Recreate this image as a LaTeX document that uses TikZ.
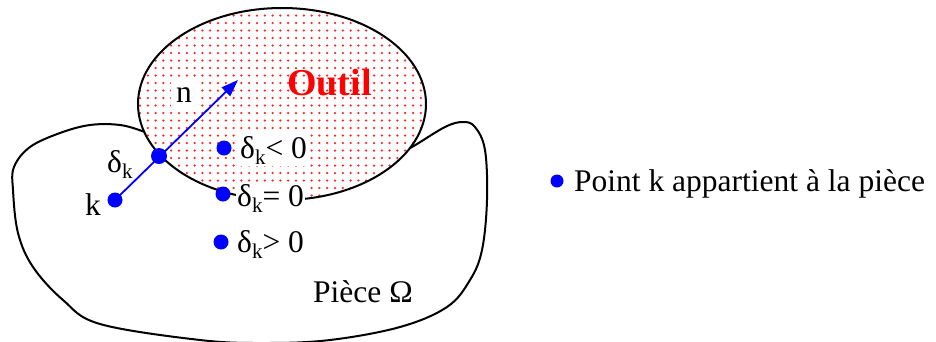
\documentclass[tikz,border=0pt]{standalone}
\usepackage{fontspec}
\setmainfont{Liberation Serif}
\usetikzlibrary{arrows.meta}
\newcommand\dlk{δ\raisebox{-6pt}{\fontsize{21}{21}\selectfont k}}
\tikzset{
  outline/.style={line width=2pt, black},
  bdot/.style={circle, fill=blue, inner sep=0pt, minimum size=#1},
  lbl/.style={anchor=base west, inner sep=1pt, font=\fontsize{31.5}{36}\selectfont},
  wlbl/.style={lbl, fill=white},
  arr/.style={blue, line width=1.8pt, -{Triangle[length=17pt,width=12pt]}}
}
\begin{document}
\begin{tikzpicture}[x=1pt,y=-1pt]
\useasboundingbox (0,0) rectangle (936,341);
% piece
\draw[outline] plot[smooth cycle, tension=0.6] coordinates {
 (145,132) (120,125) (90,125) (60,133) (30,147) (14,167) (13,190) (18,233)
 (33,267) (63,300) (100,324) (200,340) (265,343) (330,340) (400,327) (447,307) (470,280)
 (482,250) (487,200) (485,150) (475,127) (463,122) (445,127) (412,147)
 (395,155) (330,185) (230,180) (165,140)};
% tool
\fill[white] (282,104) ellipse [x radius=144, y radius=96];
\begin{scope}
\clip (282,104) ellipse [x radius=144, y radius=96];
\foreach \x in {140,147.8,...,430}
  \foreach \y in {8,15.5,...,202}
    \fill[red!85] (\x,\y) circle (1.25);
\end{scope}
\draw[outline] (282,104) ellipse [x radius=144, y radius=96];
% labels
\node[wlbl, inner sep=5pt] (n) at (171,102) {n};
\node[lbl, font=\fontsize{38}{42}\selectfont\bfseries, text=red] (outil) at (286,95) {Outil};
\node[lbl] (dk) at (106,172) {\dlk};
\node[lbl] (klbl) at (84,215) {k};
\node[wlbl, inner sep=2pt] (lt) at (238,158) {\dlk< 0};
\node[wlbl] (eq) at (236,206) {\dlk= 0};
\node[lbl] (gt) at (236,252) {\dlk> 0};
\node[lbl] (piece) at (312,302) {Pièce Ω};
% arrow and points
\coordinate (tip) at (238,80);
\node[bdot=15pt] (k) at (115,200) {};
\draw[arr] (k.center) -- (tip);
\node[bdot=16pt] (c) at (159,156) {};
\node[bdot=15pt] (p1) at (224,148) {};
\node[bdot=15pt] (p2) at (223,194) {};
\node[bdot=15pt] (p3) at (221,242) {};
% legend
\node[bdot=13pt] (leg) at (557,181) {};
\node[lbl] (legtxt) at (573,191) {Point k appartient à la pièce};
\end{tikzpicture}
\end{document}
